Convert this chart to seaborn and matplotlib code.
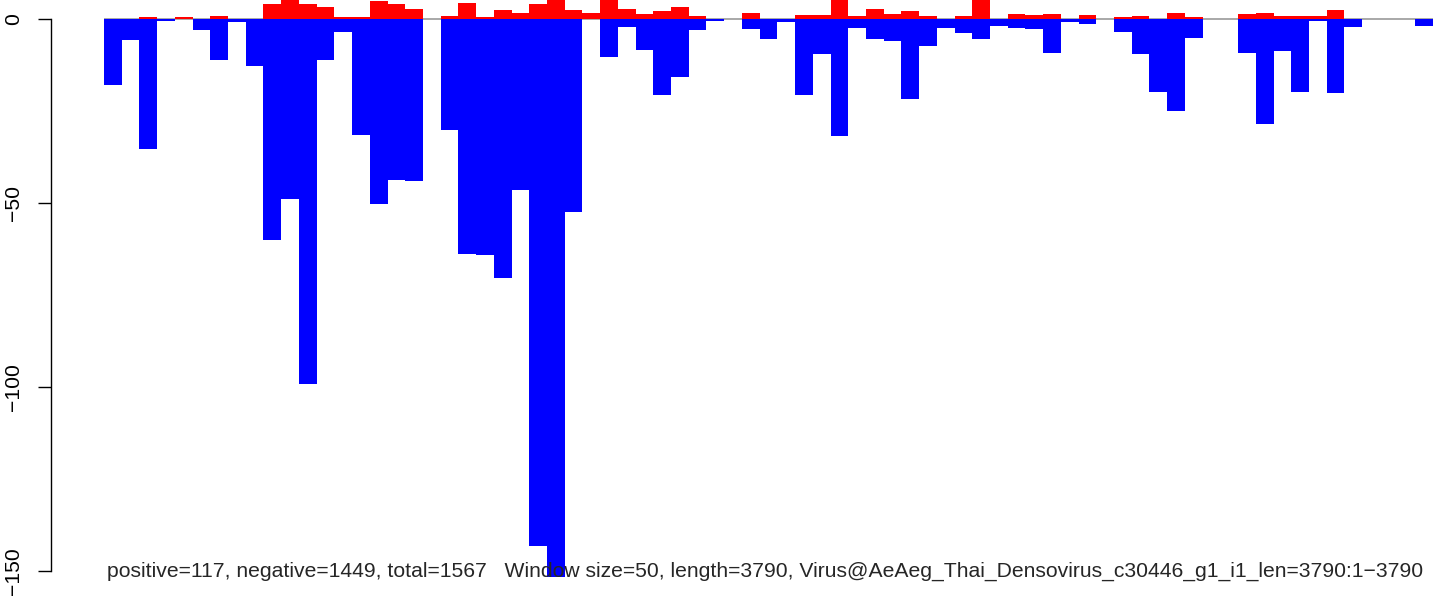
import numpy as np
import pandas as pd
import matplotlib
matplotlib.use("Agg")
import matplotlib.pyplot as plt
import seaborn as sns

# per-window counts (window size 50)
positive = [0, 0, 0.45, 0, 0.45, 0, 0.7, 0, 0, 4, 6, 4, 3.3, 0.5, 0.5, 4.8, 4, 2.6, 0, 0.7,
            4.3, 0.5, 2.4, 1.6, 4, 6, 2.4, 1.5, 6, 2.6, 1.3, 2.1, 3.2, 0.7, 0, 0, 1.5, 0, 0, 1,
            1, 6, 0.7, 2.6, 1.3, 2.1, 0.7, 0, 0.7, 6, 0, 1.3, 1, 1.3, 0, 1, 0, 0.5, 0.7, 0,
            1.5, 0.5, 0, 0, 1.3, 1.5, 0.7, 0.7, 0.7, 2.4, 0, 0, 0, 0, 0]
negative = [-18, -5.8, -35.3, -0.5, 0, -3.1, -11.2, -0.9, -12.8, -60, -49, -99.2, -11.2, -3.6, -31.6,
            -50.3, -43.8, -44.1, 0, -30.2, -63.9, -64.2, -70.5, -46.5, -143.3, -151.7, -52.5, 0, -10.3,
            -2.2, -8.5, -20.7, -15.9, -3.1, -0.6, 0, -2.8, -5.5, -0.9, -20.7, -9.6, -31.9, -2.5, -5.5,
            -6.1, -21.8, -7.4, -2.5, -3.9, -5.5, -2, -2.5, -2.8, -9.3, -0.9, -1.5, 0, -3.6, -9.6, -19.9,
            -25.1, -5.3, 0, 0, -9.3, -28.6, -8.8, -19.9, -0.6, -20.2, -2.2, 0, 0, 0, -1.9]
window = list(range(len(positive)))
yticks = [0, -50, -100, -150]
caption = ("positive=117, negative=1449, total=1567   Window size=50, length=3790, "
           "Virus@AeAeg_Thai_Densovirus_c30446_g1_i1_len=3790:1\u22123790")

df = pd.DataFrame({"window": window, "positive": positive, "negative": negative})

sns.set_style("white")
plt.rcParams["font.family"] = ["Liberation Sans", "DejaVu Sans"]

fig = plt.figure(figsize=(14.33, 5.98), dpi=100)
ax = fig.add_axes([0, 0, 1, 1])

ax.hlines(0, -0.5, len(window) - 0.5, color="#a8a8a8", lw=1.4, zorder=0.5)
sns.barplot(data=df, x="window", y="negative", color="blue", saturation=1,
            width=1, linewidth=0, errorbar=None, ax=ax, zorder=2)
sns.barplot(data=df, x="window", y="positive", color="red", saturation=1,
            width=1, linewidth=0, errorbar=None, ax=ax, zorder=2)

# pixel layout: bars start at x=104, 17.72 px each; 0 at y=18.7, 3.68 px per unit
bw = 17.72
ax.set_xlim(-104 / bw - 0.5, (1433 - 104) / bw - 0.5)
ax.set_ylim(-(598 - 18.7) / 3.68, 18.7 / 3.68)

for s in ["top", "right", "bottom"]:
    ax.spines[s].set_visible(False)
ax.spines["left"].set_position(("data", (51 - 104) / bw - 0.5))
ax.spines["left"].set_bounds(-150, 0)
ax.spines["left"].set_color("black")
ax.spines["left"].set_linewidth(1)
ax.set_xticks([])
ax.set_yticks(yticks)
ax.set_yticklabels([str(t).replace("-", "\u2212") for t in yticks], fontsize=15.2,
                   rotation=90, va="center")
ax.tick_params(axis="y", direction="out", length=9.4, width=1, pad=10.5, colors="black", left=True)
ax.set_xlabel("")
ax.set_ylabel("")

fig.text(765 / 1433, 1 - 577 / 598, caption, ha="center", va="baseline", fontsize=15.2, zorder=5)

fig.savefig("out.png", dpi=100)
